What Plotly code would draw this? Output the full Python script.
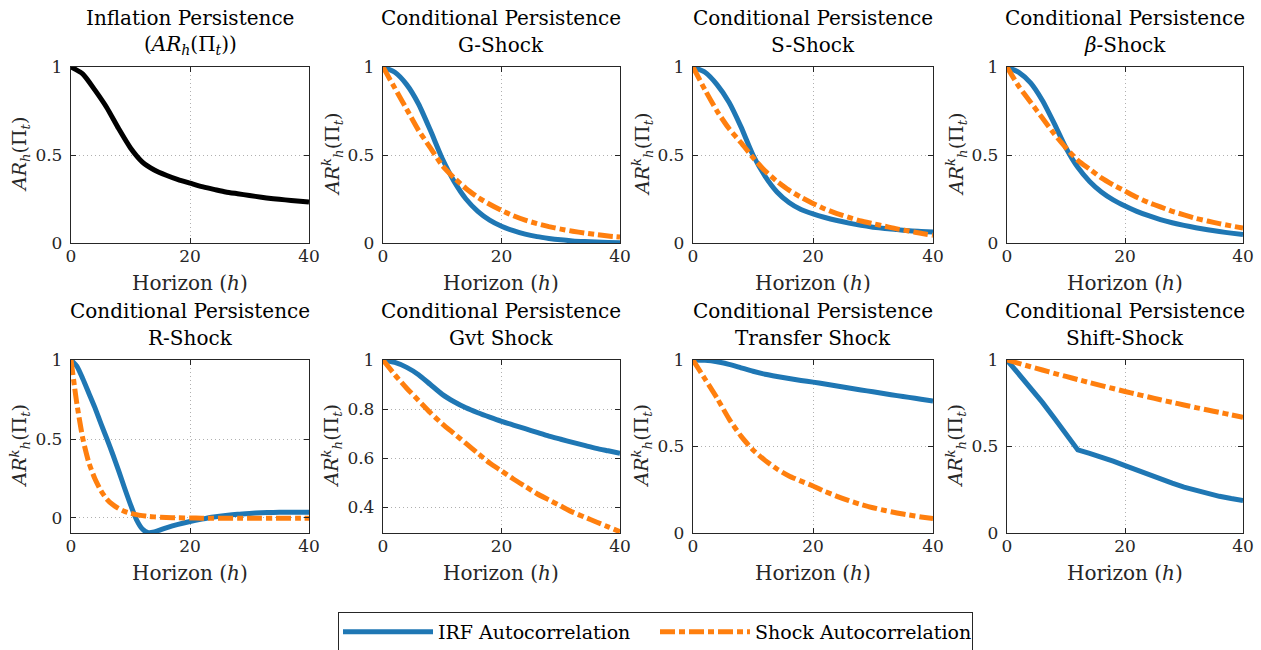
import plotly.graph_objects as go

# ---------------- data ----------------
H = [0, 2, 4, 6, 8, 10, 12, 14, 16, 18, 20, 22, 24, 26, 28, 30, 32, 34, 36, 38, 40]
H_R = [0, 1, 2, 3, 4, 5, 6, 7, 8, 9, 10, 11, 12, 13, 14, 16, 18, 20, 22, 24, 26, 28, 30, 32, 34, 36, 38, 40]

inflation_ar = [1.00, 0.96, 0.87, 0.77, 0.65, 0.54, 0.46, 0.415, 0.385, 0.36, 0.34, 0.32, 0.305, 0.29, 0.28,
                0.27, 0.26, 0.252, 0.245, 0.239, 0.233]

g_irf = [1.0, 0.97, 0.90, 0.79, 0.64, 0.48, 0.35, 0.25, 0.18, 0.13, 0.095, 0.07, 0.05, 0.036, 0.026, 0.018,
         0.012, 0.008, 0.005, 0.003, 0.002]
g_shock = [1.0, 0.88, 0.76, 0.64, 0.54, 0.44, 0.37, 0.31, 0.26, 0.22, 0.185, 0.155, 0.13, 0.11, 0.093, 0.079,
           0.067, 0.057, 0.048, 0.040, 0.034]

s_irf = [1.0, 0.97, 0.90, 0.80, 0.66, 0.50, 0.38, 0.29, 0.23, 0.19, 0.165, 0.145, 0.128, 0.113, 0.10, 0.09,
         0.082, 0.076, 0.07, 0.066, 0.062]
s_shock = [1.0, 0.87, 0.75, 0.65, 0.57, 0.485, 0.41, 0.35, 0.30, 0.26, 0.225, 0.193, 0.167, 0.145, 0.125, 0.11,
           0.095, 0.08, 0.068, 0.055, 0.044]

beta_irf = [1.0, 0.97, 0.91, 0.81, 0.68, 0.54, 0.43, 0.35, 0.29, 0.245, 0.21, 0.18, 0.155, 0.133, 0.115, 0.10,
            0.087, 0.075, 0.065, 0.056, 0.048]
beta_shock = [1.0, 0.89, 0.80, 0.71, 0.62, 0.54, 0.47, 0.42, 0.37, 0.33, 0.295, 0.26, 0.23, 0.205, 0.18, 0.16,
              0.14, 0.125, 0.11, 0.097, 0.085]

r_irf = [1.0, 0.96, 0.88, 0.79, 0.70, 0.60, 0.505, 0.405, 0.30, 0.19, 0.085, -0.01, -0.07, -0.093, -0.088,
         -0.062, -0.04, -0.022, -0.007, 0.006, 0.016, 0.024, 0.029, 0.033, 0.035, 0.036, 0.037, 0.037]
r_shock = [1.0, 0.72, 0.50, 0.35, 0.25, 0.175, 0.12, 0.085, 0.06, 0.042, 0.03, 0.021, 0.015, 0.01, 0.007,
           0.003, 0.001, 0.0, -0.001, -0.001, -0.001, -0.001, -0.001, -0.001, -0.001, -0.001, -0.001, -0.001]

gvt_irf = [1.0, 0.99, 0.97, 0.94, 0.90, 0.86, 0.83, 0.805, 0.785, 0.767, 0.75, 0.735, 0.72, 0.705, 0.69, 0.677,
           0.664, 0.652, 0.64, 0.63, 0.62]
gvt_shock = [1.0, 0.94, 0.885, 0.835, 0.785, 0.74, 0.70, 0.66, 0.62, 0.58, 0.548, 0.515, 0.485, 0.455, 0.43,
             0.405, 0.38, 0.36, 0.34, 0.32, 0.30]

transfer_irf = [1.0, 0.998, 0.99, 0.975, 0.955, 0.935, 0.918, 0.905, 0.893, 0.882, 0.872, 0.861, 0.85, 0.838,
                0.827, 0.816, 0.805, 0.794, 0.784, 0.773, 0.763]
transfer_shock = [1.0, 0.89, 0.78, 0.66, 0.56, 0.48, 0.42, 0.37, 0.33, 0.30, 0.272, 0.24, 0.212, 0.187, 0.165,
                  0.146, 0.13, 0.116, 0.104, 0.093, 0.083]

shift_irf = [1.0, 0.92, 0.84, 0.755, 0.665, 0.575, 0.48, 0.46, 0.44, 0.415, 0.39, 0.363, 0.337, 0.312, 0.288,
             0.265, 0.245, 0.227, 0.212, 0.199, 0.188]
shift_shock = [1.0, 0.98, 0.961, 0.942, 0.923, 0.905, 0.887, 0.869, 0.852, 0.835, 0.818, 0.802, 0.786, 0.77,
               0.755, 0.74, 0.725, 0.711, 0.697, 0.683, 0.669]

title_line1 = ["Inflation Persistence"] + ["Conditional Persistence"] * 7
title_line2 = [
    "(<i>AR</i><sub><i>h</i></sub>(Π<sub><i>t</i></sub>))",
    "G-Shock", "S-Shock", "<i>β</i>-Shock",
    "R-Shock", "Gvt Shock", "Transfer Shock", "Shift-Shock",
]
x_ticks = [0, 20, 40]
y_ticks_std = [0, 0.5, 1]
y_ticks_gvt = [0.4, 0.6, 0.8, 1]
legend_names = ["IRF Autocorrelation", "Shock Autocorrelation"]
x_label = "Horizon (<i>h</i>)"
y_label_total = "<i>AR</i><sub><i>h</i></sub>(Π<sub><i>t</i></sub>)"
y_label_cond = "<i>AR</i><sup><i>k</i></sup><sub><i>h</i></sub>(Π<sub><i>t</i></sub>)"

# ---------------- layout constants ----------------
W, Hh = 1261, 650
BLUE, ORANGE = "#1f77b4", "#ff7f0e"
FONT = "DejaVu Serif"
TXT = "#262626"
col_px = [(71, 309), (383, 620), (693, 933), (1007, 1243)]
row_px = [(67, 243), (360, 533)]

panels = [
    dict(series=[(H, inflation_ar, "black", "solid", None)], yr=[0, 1], yt=y_ticks_std, single=True),
    dict(series=[(H, g_irf, BLUE, "solid", 0), (H, g_shock, ORANGE, "dash", 1)], yr=[0, 1], yt=y_ticks_std),
    dict(series=[(H, s_irf, BLUE, "solid", 0), (H, s_shock, ORANGE, "dash", 1)], yr=[0, 1], yt=y_ticks_std),
    dict(series=[(H, beta_irf, BLUE, "solid", 0), (H, beta_shock, ORANGE, "dash", 1)], yr=[0, 1], yt=y_ticks_std),
    dict(series=[(H_R, r_irf, BLUE, "solid", 0), (H_R, r_shock, ORANGE, "dash", 1)], yr=[-0.095, 1], yt=y_ticks_std),
    dict(series=[(H, gvt_irf, BLUE, "solid", 0), (H, gvt_shock, ORANGE, "dash", 1)], yr=[0.295, 1], yt=y_ticks_gvt),
    dict(series=[(H, transfer_irf, BLUE, "solid", 0), (H, transfer_shock, ORANGE, "dash", 1)], yr=[0, 1], yt=y_ticks_std),
    dict(series=[(H, shift_irf, BLUE, "solid", 0), (H, shift_shock, ORANGE, "dash", 1)], yr=[0, 1], yt=y_ticks_std, linear=True),
]

DASH = "15px,4px,6px,4px"

fig = go.Figure()
shown = set()
annotations = []
layout_axes = {}

for i, p in enumerate(panels):
    n = i + 1
    r, c = divmod(i, 4)
    x0, x1 = col_px[c]
    y0, y1 = row_px[r]
    xs = "" if n == 1 else str(n)
    for (hx, vals, color, style, leg) in p["series"]:
        shape = "spline"
        if p.get("linear") and color == BLUE:
            shape = "linear"
        showleg = leg is not None and leg not in shown
        if leg is not None:
            shown.add(leg)
        fig.add_trace(go.Scatter(
            x=hx, y=vals, mode="lines",
            line=dict(color=color, width=5, dash=(DASH if style == "dash" else "solid"),
                      shape=shape, smoothing=0.6),
            name=legend_names[leg] if leg is not None else "AR",
            showlegend=showleg, legendgroup=str(leg),
            xaxis="x" + xs, yaxis="y" + xs,
        ))
    yt = p["yt"]
    ytext = [("%g" % v) for v in yt]
    common = dict(showline=True, linecolor=TXT, linewidth=1.3, mirror="ticks", ticks="inside",
                  ticklen=5, tickwidth=1, tickcolor=TXT, showgrid=True, gridcolor="#b0b0b0",
                  griddash="1px,3px", gridwidth=1, zeroline=False, automargin=False,
                  tickfont=dict(family=FONT, size=17, color=TXT))
    layout_axes["xaxis" + xs] = dict(
        domain=[x0 / W, x1 / W], range=[0, 40], tickvals=x_ticks, anchor="y" + xs,
        ticklabelstandoff=-3, **common)
    layout_axes["yaxis" + xs] = dict(
        domain=[1 - y1 / Hh, 1 - y0 / Hh], range=p["yr"], tickvals=yt, ticktext=ytext,
        anchor="x" + xs, ticklabelstandoff=4, **common)
    cx = (x0 + x1) / 2 / W
    # titles (two lines)
    annotations.append(dict(text=title_line1[i], xref="paper", yref="paper", x=cx, y=1 - (y0 - 49) / Hh,
                            xanchor="center", yanchor="middle", showarrow=False,
                            font=dict(family=FONT, size=20, color="black")))
    annotations.append(dict(text=title_line2[i], xref="paper", yref="paper", x=cx, y=1 - (y0 - 22) / Hh,
                            xanchor="center", yanchor="middle", showarrow=False,
                            font=dict(family=FONT, size=20, color="black")))
    # x-axis title
    annotations.append(dict(text=x_label, xref="paper", yref="paper", x=cx, y=1 - (y1 + 40) / Hh,
                            xanchor="center", yanchor="middle", showarrow=False,
                            font=dict(family=FONT, size=20, color=TXT)))
    # y-axis title
    annotations.append(dict(text=(y_label_total if p.get("single") else y_label_cond),
                            xref="paper", yref="paper", x=(x0 - 51) / W, y=1 - (y0 + y1) / 2 / Hh,
                            xanchor="center", yanchor="middle", textangle=-90, showarrow=False,
                            font=dict(family=FONT, size=19, color=TXT)))

fig.update_layout(
    width=W, height=Hh, margin=dict(l=0, r=0, t=0, b=0, autoexpand=False),
    paper_bgcolor="white", plot_bgcolor="white",
    annotations=annotations,
    showlegend=True,
    legend=dict(orientation="h", x=338 / W, y=1 - 612 / Hh, xanchor="left", yanchor="top",
                bordercolor=TXT, borderwidth=1, bgcolor="white", itemwidth=90, entrywidth=212,
                font=dict(family=FONT, size=19, color="black")),
    **layout_axes,
)

fig.write_html("out.html")
